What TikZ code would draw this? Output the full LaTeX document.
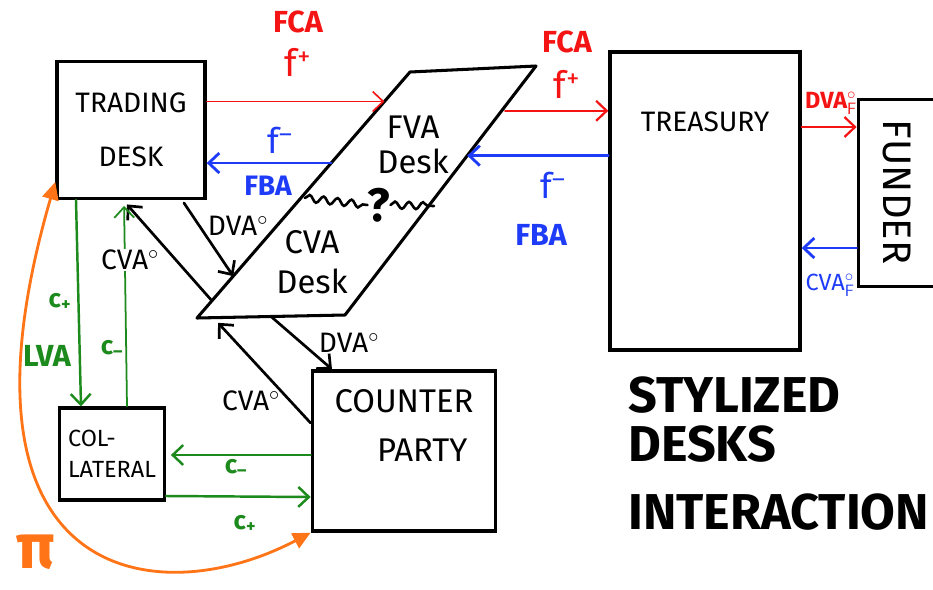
\documentclass[tikz,border=0pt]{standalone}
\usepackage{fontspec}
\setmainfont{Fira Sans}
\usetikzlibrary{arrows.meta,positioning,calc,decorations.pathmorphing}
\definecolor{fundred}{HTML}{F41414}
\definecolor{fundblue}{HTML}{1E3CF8}
\definecolor{collgreen}{HTML}{1C8A1C}
\definecolor{pnlorange}{HTML}{FF7416}

\begin{document}
\begin{tikzpicture}[x=0.03cm,y=-0.03cm,font=\fontsize{24}{28}\selectfont,line cap=round,
  desk/.style={draw=black,line width=2.9pt,inner sep=0pt,align=center},
  deskname/.style={inner sep=0pt,align=center},
  cashflow/.style={-{Straight Barb[length=9pt,width=17pt]},line width=1.9pt},
  redflow/.style={cashflow,draw=fundred},
  blueflow/.style={cashflow,draw=fundblue,line width=2.4pt},
  greenflow/.style={cashflow,draw=collgreen,line width=2.1pt},
  blackflow/.style={cashflow,draw=black,line width=2.3pt},
  pnl/.style={{Triangle[length=15pt,width=14pt]}-{Triangle[length=15pt,width=14pt]},line width=2.4pt,draw=pnlorange},
  lbl/.style={inner sep=1pt},
  wave/.style={decorate,decoration={snake,segment length=12pt,amplitude=3pt},line width=2.2pt}]
  \useasboundingbox[fill=white] (0,0) rectangle (933,589);

  % ===== desks =====
  \node[desk,minimum width=4.44cm,minimum height=4.1cm] (trading) at (131,130) {TRADING\\[18pt]DESK};
  \node[desk,minimum width=5.7cm,minimum height=8.94cm] (treasury) at (705,201) {};
  \node[deskname,below=1.85cm of treasury.north] (treasurytxt) {TREASURY};
  \node[desk,minimum width=2.5cm,minimum height=5.6cm] (funder) at (900,193) {};
  \node[deskname,rotate=-90,font=\fontsize{34}{36}\selectfont] (fundertxt) at (897,192) {FUNDER};
  \node[desk,minimum width=3.15cm,minimum height=2.76cm,align=left,font=\fontsize{20}{26}\selectfont] (collateral) at (112,454) {COL-\\LATERAL};
  \node[desk,minimum width=5.5cm,minimum height=4.8cm] (counterparty) at (404,451) {};
  \node[deskname,align=left,font=\fontsize{28}{30}\selectfont,below=0.6cm of counterparty.north] (cptxt) {COUNTER\\[12pt]\hspace*{1.3em}PARTY};

  % FVA / CVA desk (parallelogram)
  \coordinate (pbl) at (197,318);
  \coordinate (pbr) at (345,315);
  \coordinate (ptr) at (536,66);
  \coordinate (ptl) at (410,72);
  \draw[line width=2.6pt,line join=round] (pbl) -- (pbr) -- (ptr) -- (ptl) -- cycle;
  \node[deskname,font=\fontsize{28}{30}\selectfont] (fvadesk) at (413,145) {FVA\\Desk};
  \node[deskname,font=\fontsize{28}{30}\selectfont] (cvadesk) at (312,262) {CVA\\[4pt]Desk};
  \node[inner sep=0pt,font=\bfseries\fontsize{40}{40}\selectfont] (qmark) at (379,205) {?};
  \coordinate (wavel) at (305,198);
  \coordinate (waver) at (434,206);
  \draw[wave] (wavel) -- (qmark.west);
  \draw[wave] (qmark.east) -- (waver);

  \coordinate (pfcain) at ($(pbl)!0.88!(ptl)$);
  \coordinate (pfbaout) at ($(pbl)!0.63!(ptl)$);
  \coordinate (pdvain) at ($(pbl)!0.17!(ptl)$);
  \coordinate (pcvaout) at ($(pbl)!0.07!(ptl)$);
  \coordinate (pdvaout) at ($(pbl)!0.5!(pbr)$);
  \coordinate (pcvain) at ($(pbl)!0.11!(pbr)$);
  \coordinate (pfcaout) at ($(pbr)!0.82!(ptr)$);
  \coordinate (pfbain) at ($(pbr)!0.64!(ptr)$);

  % ===== funding flows =====
  \draw[redflow,line width=1.4pt] (trading.east |- pfcain) -- (pfcain);
  \node[lbl,text=fundred,font=\bfseries\fontsize{26}{28}\selectfont] (fca1) at (298,22) {FCA};
  \node[lbl,text=fundred,font=\fontsize{32}{34}\selectfont] (fplus1) at (298,62) {f\textsuperscript{+}};
  \draw[blueflow] (pfbaout) -- (trading.east |- pfbaout);
  \node[lbl,text=fundblue,font=\fontsize{30}{32}\selectfont] (fminus1) at (280,140) {f\textsuperscript{--}};
  \node[lbl,text=fundblue,font=\bfseries\fontsize{24}{26}\selectfont] (fba1) at (268,186) {FBA};
  \draw[redflow,shorten <=3pt] (pfcaout) -- (treasury.west |- pfcaout);
  \node[lbl,text=fundred,font=\bfseries\fontsize{26}{28}\selectfont] (fca2) at (567,42) {FCA};
  \node[lbl,text=fundred,font=\fontsize{32}{34}\selectfont] (fplus2) at (567,84) {f\textsuperscript{+}};
  \draw[blueflow] (treasury.west |- pfbain) -- (pfbain);
  \node[lbl,text=fundblue,font=\fontsize{30}{32}\selectfont] (fminus2) at (553,185) {f\textsuperscript{--}};
  \node[lbl,text=fundblue,font=\bfseries\fontsize{26}{28}\selectfont] (fba2) at (541,235) {FBA};
  \draw[redflow] (treasury.east |- 0,127) -- (funder.west |- 0,127);
  \node[lbl,text=fundred,font=\bfseries\fontsize{20}{22}\selectfont] (dvaf) at (831,103) {DVA$^{\circ}_{\mathsf{F}}$};
  \draw[blueflow] (funder.west |- 0,248) -- (treasury.east |- 0,248);
  \node[lbl,text=fundblue,font=\fontsize{20}{22}\selectfont] (cvaf) at (830,285) {CVA$^{\circ}_{\mathsf{F}}$};

  % ===== credit flows =====
  \draw[blackflow,shorten <=3pt] (trading.south -| 182,0) -- (pdvain);
  \node[lbl] (dva1) at (238,226) {DVA$^{\circ}$};
  \draw[blackflow,shorten >=5pt] (pcvaout) -- (trading.south -| 123,0);
  \draw[blackflow] (pdvaout) -- (counterparty.north -| 332,0);
  \node[lbl] (dva2) at (349,343) {DVA$^{\circ}$};
  \draw[blackflow,shorten >=6pt] (counterparty.west |- 0,423) -- (pcvain);
  \node[lbl] (cva2) at (251,401) {CVA$^{\circ}$};

  % ===== collateral =====
  \draw[greenflow] (trading.south -| 76,0) -- (collateral.north -| 81,0);
  \node[lbl,text=collgreen,font=\bfseries\fontsize{22}{24}\selectfont] (cplus1) at (60,302) {c\textsubscript{+}};
  \node[lbl,text=collgreen,font=\bfseries\fontsize{26}{28}\selectfont] (lva) at (47,356) {LVA};
  \draw[greenflow,line width=1.5pt,shorten >=5pt] (collateral.north -| 127,0) -- (trading.south -| 124,0);
  \node[lbl,text=collgreen,font=\bfseries\fontsize{22}{24}\selectfont] (cminus1) at (112,349) {c\textsubscript{--}};
  \node[lbl,fill=white] (cva1) at (130,260) {CVA$^{\circ}$};
  \draw[greenflow,shorten >=4pt] (counterparty.west |- 0,455) -- (collateral.east |- 0,455);
  \node[lbl,text=collgreen,font=\bfseries\fontsize{22}{24}\selectfont] (cminus2) at (236,468) {c\textsubscript{--}};
  \draw[greenflow] (collateral.east |- 0,496) -- (counterparty.west |- 0,497);
  \node[lbl,text=collgreen,font=\bfseries\fontsize{22}{24}\selectfont] (cplus2) at (245,524) {c\textsubscript{+}};

  % ===== pnl =====
  \draw[pnl] (trading.west |- 0,182) .. controls (-61,583) and (156,614) .. (counterparty.south west);
  \node[inner sep=0pt,text=pnlorange,font=\bfseries\fontsize{54}{54}\selectfont] (pi) at (36,552) {π};

  \node[anchor=north west,inner sep=0pt,align=left,font=\bfseries\fontsize{43}{42}\selectfont] (title) at (628,376) {STYLIZED\\DESKS\\[16pt]INTERACTION};
\end{tikzpicture}
\end{document}
